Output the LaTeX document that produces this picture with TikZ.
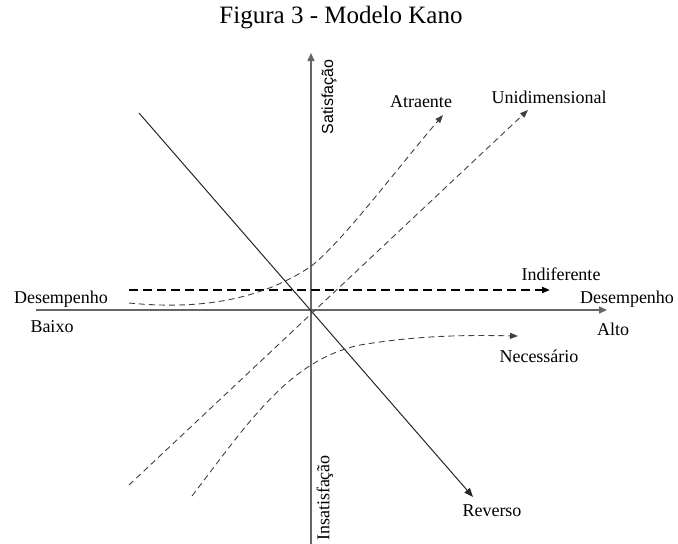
\documentclass[tikz,border=0pt]{standalone}
\usepackage{fontspec}
\setmainfont{Liberation Serif}
\newfontfamily\axsans{Liberation Sans}
\usetikzlibrary{arrows.meta}
\begin{document}
\begin{tikzpicture}[x=1pt,y=-1pt,
  lbl/.style={font=\fontsize{18}{20}\selectfont, inner sep=0pt},
  axisline/.style={draw=black!60, line width=1.4pt, -{Triangle[length=8pt,width=7pt]}},
  revline/.style={draw=black!85, line width=1pt, -{Triangle[length=9pt,width=7pt]}},
  thin dash/.style={draw=black!75, line width=0.9pt, dash pattern=on 6pt off 4pt,
    -{Triangle[length=8pt,width=6pt]}},
  thick dash/.style={draw=black, line width=1.8pt, dash pattern=on 9pt off 5pt,
    -{Triangle[length=8pt,width=6pt]}},
  plain dash/.style={draw=black!75, line width=0.9pt, dash pattern=on 6pt off 4pt}
]
\useasboundingbox (0,0) rectangle (678,544);

% title
\node[font=\fontsize{25}{28}\selectfont, inner sep=0pt] (title) at (341,18) {Figura 3 - Modelo Kano};

% axes
\coordinate (xl) at (36,310);
\coordinate (xr) at (607,310);
\coordinate (yb) at (311,545);
\coordinate (yt) at (311,53);
\draw[axisline] (xl) -- (xr);
\draw[axisline] (yb) -- (yt);

% axis labels
\node[font=\axsans\fontsize{16}{18}\selectfont, inner sep=0pt, rotate=90] (sat) at (329,97) {Satisfação};
\node[lbl, rotate=90] (insat) at (325,498) {Insatisfação};
\node[lbl] (dl) at (61,299) {Desempenho};
\node[lbl] (baixo) at (52,327) {Baixo};
\node[lbl] (dr) at (627,299) {Desempenho};
\node[lbl] (alto) at (613,329) {Alto};

% curve labels
\node[lbl] (atr) at (421,102) {Atraente};
\node[lbl] (uni) at (549,97) {Unidimensional};
\node[lbl] (ind) at (561,274) {Indiferente};
\node[lbl] (nec) at (539,356) {Necessário};
\node[lbl] (rev) at (492,511) {Reverso};

% curve end points
\coordinate (revS) at (139,113);
\coordinate (revE) at (473,497);
\coordinate (indS) at (129,290);
\coordinate (indE) at (550,290);
\coordinate (uniS) at (129,485);
\coordinate (uniE) at (528,110);
\coordinate (atrS) at (129,303);
\coordinate (atrM) at (310,267);
\coordinate (atrE) at (443,115);
\coordinate (necS) at (192,496);
\coordinate (necM) at (360,345);
\coordinate (necE) at (518,336);

% reverse quality
\draw[revline] (revS) -- (revE);
% indifferent quality
\draw[thick dash] (indS) -- (indE);
% one-dimensional quality
\draw[thin dash] (uniS) -- (uniE);
% attractive quality
\draw[thin dash] (atrS) .. controls (200,310) and (260,300) .. (atrM)
  .. controls (340,245) and (400,165) .. (atrE);
% must-be quality
\draw[thin dash] (necS) .. controls (250,420) and (290,360) .. (necM)
  .. controls (420,335) and (470,335) .. (necE);
\end{tikzpicture}
\end{document}
